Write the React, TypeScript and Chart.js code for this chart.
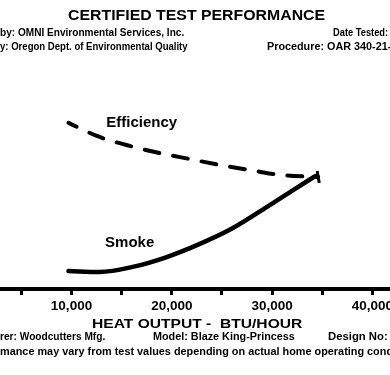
import React, { useEffect, useLayoutEffect, useRef } from "react";
import { Chart, registerables } from "chart.js";

Chart.register(...registerables);

// ---- data ----
const efficiencyBtu = [9700, 12800, 15800, 18800, 21800, 24800, 27800, 30800, 34600];
const efficiencyVal = [72.2, 66.1, 62.2, 59.1, 56.5, 53.9, 51.7, 49.6, 48.7];
const smokeBtu = [9700, 12800, 16100, 19500, 22800, 26100, 29500, 32100, 34300];
const smokeVal = [7.8, 7.4, 9.6, 13.9, 19.6, 26.5, 35.7, 43.0, 49.1];
const tickValues = [5000, 10000, 15000, 20000, 25000, 30000, 35000, 40000];
const labeledTicks = [10000, 20000, 30000, 40000];
const seriesNames = ["Efficiency", "Smoke"];
const seriesLabelAt = [
  { x: 17000, y: 72.2 },
  { x: 15800, y: 20.0 },
];
const titleText = "CERTIFIED TEST PERFORMANCE";
const xAxisTitle = "HEAT OUTPUT -  BTU/HOUR";

const FAMILY = "'Liberation Sans', Arial, Helvetica, sans-serif";
const NARROW = "'Liberation Sans Narrow', 'Liberation Sans', Arial, sans-serif";

type TxtProps = {
  text: string;
  x: number;
  y: number;
  w: number;
  size: number;
  family?: string;
  weight?: string | number;
  anchor?: "left" | "center" | "right";
};

function Txt({ text, x, y, w, size, family = FAMILY, weight = "bold", anchor = "left" }: TxtProps) {
  const ref = useRef<HTMLSpanElement>(null);
  useLayoutEffect(() => {
    const fit = () => {
      const el = ref.current;
      if (!el) return;
      el.style.transform = "none";
      const nat = el.offsetWidth || 1;
      el.style.transform = `scaleX(${w / nat})`;
    };
    fit();
    if ((document as any).fonts && (document as any).fonts.ready) {
      (document as any).fonts.ready.then(fit);
    }
  }, [text, w, size, family]);
  const left = anchor === "left" ? x : anchor === "center" ? x - w / 2 : x - w;
  return (
    <span
      ref={ref}
      style={{
        position: "absolute",
        left,
        top: y - size / 2,
        fontFamily: family,
        fontWeight: weight as any,
        fontSize: size,
        lineHeight: `${size}px`,
        whiteSpace: "pre",
        color: "#000",
        transformOrigin: "left center",
        display: "inline-block",
        zIndex: 2,
      }}
    >
      {text}
    </span>
  );
}

const seriesLabelPlugin = {
  id: "seriesLabels",
  afterDatasetsDraw(chart: any) {
    const { ctx, scales } = chart;
    ctx.save();
    ctx.fillStyle = "#000";
    ctx.font = `bold 15px ${FAMILY}`;
    ctx.textAlign = "center";
    ctx.textBaseline = "middle";
    seriesNames.forEach((name, i) => {
      const p = seriesLabelAt[i];
      ctx.fillText(name, scales.x.getPixelForValue(p.x), scales.y.getPixelForValue(p.y));
    });
    ctx.restore();
  },
};

function ChartCanvas() {
  const ref = useRef<HTMLCanvasElement>(null);
  useEffect(() => {
    if (!ref.current) return;
    const lastE = efficiencyBtu.length - 1;
    const chart = new Chart(ref.current, {
      type: "line",
      data: {
        datasets: [
          {
            label: seriesNames[0],
            data: efficiencyBtu.map((x, i) => ({ x, y: efficiencyVal[i] })),
            borderColor: "#000",
            backgroundColor: "#000",
            borderWidth: 4,
            borderDash: [15, 14],
            borderDashOffset: 6,
            borderCapStyle: "round",
            cubicInterpolationMode: "monotone",
            pointRadius: efficiencyBtu.map((_, i) => (i === lastE ? 6 : 0)),
            pointStyle: "line",
            rotation: 80,
            pointBorderWidth: 3,
            pointBorderColor: "#000",
            fill: false,
          } as any,
          {
            label: seriesNames[1],
            data: smokeBtu.map((x, i) => ({ x, y: smokeVal[i] })),
            borderColor: "#000",
            backgroundColor: "#000",
            borderWidth: 4.5,
            borderCapStyle: "round",
            cubicInterpolationMode: "monotone",
            pointRadius: 0,
            fill: false,
          } as any,
        ],
      },
      options: {
        responsive: false,
        maintainAspectRatio: false,
        animation: false,
        events: [],
        layout: { autoPadding: false, padding: { top: 59, bottom: 3, left: 0, right: 0 } },
        plugins: { legend: { display: false }, tooltip: { enabled: false }, title: { display: false } },
        scales: {
          x: {
            type: "linear",
            min: 2870,
            max: 44750,
            afterBuildTicks: (s: any) => {
              s.ticks = tickValues.map((v) => ({ value: v }));
            },
            afterFit: (s: any) => {
              s.paddingLeft = 0;
              s.paddingRight = 0;
            },
            ticks: {
              callback: (v: any) => (labeledTicks.includes(Number(v)) ? Number(v).toLocaleString("en-US") : ""),
              font: { family: FAMILY, size: 13.5, weight: "bold" },
              color: "#000",
              padding: 2.9,
              maxRotation: 0,
              minRotation: 0,
              autoSkip: false,
            },
            grid: {
              display: true,
              drawOnChartArea: false,
              drawTicks: true,
              tickLength: 6,
              tickWidth: 3,
              tickColor: "#000",
            },
            border: { display: true, color: "#000", width: 4 },
          },
          y: { display: false, min: 0, max: 100 },
        },
      } as any,
      plugins: [seriesLabelPlugin],
    });
    return () => chart.destroy();
  }, []);
  return (
    <canvas
      ref={ref}
      width={420}
      height={320}
      style={{ position: "absolute", left: 0, top: 0, width: 420, height: 320 }}
    />
  );
}

export default function App() {
  return (
    <div
      style={{
        position: "fixed",
        left: 0,
        top: 0,
        width: 390,
        height: 375,
        overflow: "hidden",
        background: "#fff",
      }}
    >
      <ChartCanvas />
      <Txt text={titleText} x={68} y={15} w={257} size={14} />
      <Txt text="by: OMNI Environmental Services, Inc." x={0} y={33} w={184} size={11.5} family={NARROW} />
      <Txt text="Date Tested:" x={333} y={33} w={55} size={11.5} family={NARROW} />
      <Txt text="y: Oregon Dept. of Environmental Quality" x={0} y={47} w={188} size={11.5} family={NARROW} />
      <Txt text="Procedure: OAR 340-21-" x={267} y={47} w={124} size={11.5} family={NARROW} />
      <Txt text={xAxisTitle} x={92} y={323} w={210} size={13} />
      <Txt text="rer: Woodcutters Mfg." x={0} y={337} w={105} size={11.5} family={NARROW} />
      <Txt text="Model: Blaze King-Princess" x={153} y={337} w={142} size={11.5} family={NARROW} />
      <Txt text="Design No:" x={328} y={337} w={60} size={11.5} family={NARROW} />
      <Txt
        text="mance may vary from test values depending on actual home operating cond"
        x={0}
        y={352}
        w={393}
        size={11.5}
        family={NARROW}
      />
    </div>
  );
}
